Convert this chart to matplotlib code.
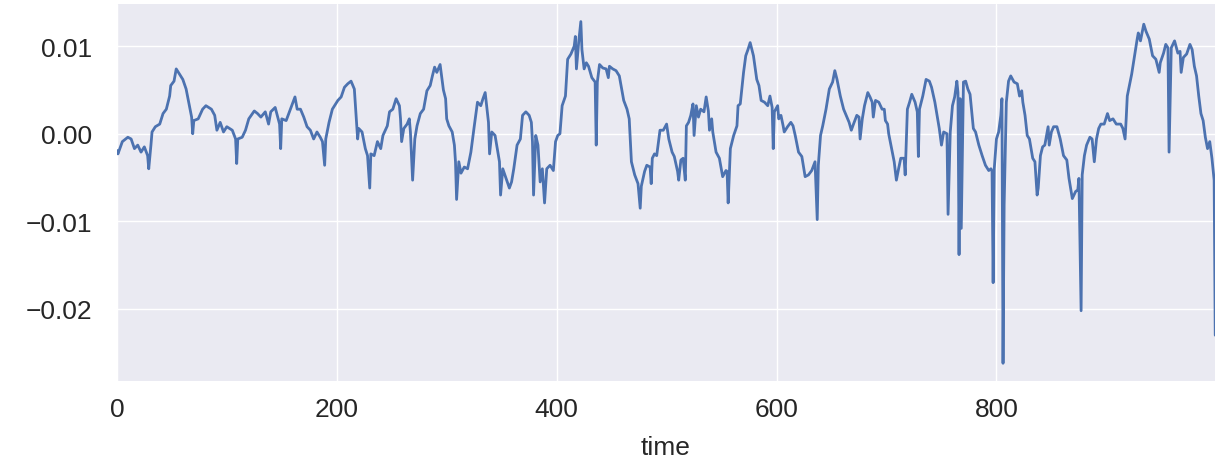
import matplotlib
matplotlib.use("Agg")
import matplotlib.pyplot as plt
import seaborn as sns
import pandas as pd

sns.set_theme(style="darkgrid")
plt.rcParams['font.family'] = ['Liberation Sans', 'DejaVu Sans']

# values (time step, value)
time = [
    0, 1, 5, 10, 13, 16, 19, 22, 25, 28, 29, 31, 32, 35, 39, 42, 45, 48, 49, 52,
    54, 57, 60, 63, 66, 68, 69, 70, 74, 78, 81, 86, 89, 91, 94, 97, 100, 105, 108, 109,
    110, 114, 117, 120, 125, 128, 131, 135, 138, 140, 144, 148, 149, 150, 154, 157, 159, 162, 164, 167,
    170, 173, 176, 179, 182, 185, 187, 189, 190, 193, 196, 199, 201, 204, 207, 210, 213, 216, 217, 219,
    220, 223, 226, 228, 230, 231, 234, 237, 240, 242, 246, 248, 251, 254, 257, 258, 259, 261, 264, 266,
    267, 269, 271, 273, 276, 279, 282, 285, 287, 289, 291, 294, 296, 297, 299, 300, 302, 305, 307, 308,
    309, 311, 313, 316, 319, 322, 325, 328, 331, 333, 335, 337, 338, 339, 341, 344, 346, 348, 349, 351,
    354, 357, 359, 361, 364, 367, 369, 372, 375, 377, 378, 379, 381, 383, 385, 387, 389, 391, 394, 397,
    399, 401, 403, 405, 408, 410, 413, 416, 417, 418, 420, 422, 423, 425, 427, 429, 432, 435, 436, 437,
    439, 442, 445, 447, 448, 451, 454, 457, 461, 464, 466, 468, 471, 474, 476, 477, 480, 482, 485, 486,
    487, 489, 491, 494, 497, 500, 502, 505, 507, 510, 511, 513, 515, 517, 518, 520, 522, 524, 525, 527,
    529, 531, 534, 536, 538, 539, 541, 542, 545, 548, 551, 554, 555, 556, 558, 561, 564, 565, 567, 570,
    572, 574, 576, 579, 582, 584, 586, 589, 592, 594, 596, 597, 598, 601, 602, 604, 606, 607, 610, 613,
    615, 617, 620, 623, 626, 629, 632, 635, 637, 638, 640, 642, 645, 648, 651, 653, 655, 658, 661, 664,
    666, 668, 670, 673, 675, 676, 678, 680, 683, 685, 687, 688, 690, 693, 696, 698, 699, 701, 702, 704,
    707, 709, 711, 713, 716, 717, 719, 721, 723, 726, 728, 729, 730, 733, 736, 739, 741, 744, 748, 750,
    752, 755, 756, 758, 760, 762, 764, 765, 766, 767, 768, 770, 772, 774, 776, 779, 781, 784, 787, 790,
    793, 795, 796, 797, 798, 800, 802, 804, 805, 806, 807, 809, 811, 813, 816, 819, 821, 823, 824, 826,
    828, 830, 833, 835, 837, 838, 840, 842, 844, 847, 848, 850, 852, 855, 858, 861, 864, 866, 869, 872,
    874, 875, 877, 878, 880, 882, 885, 887, 889, 891, 893, 895, 898, 901, 903, 906, 909, 913, 915, 917,
    918, 919, 922, 923, 926, 928, 929, 931, 934, 936, 939, 942, 945, 948, 949, 952, 954, 956, 957, 959,
    962, 965, 967, 968, 970, 973, 976, 978, 980, 982, 984, 986, 988, 990, 992, 994, 996, 998, 999,
]

value = [
    -0.0019, -0.0023, -0.0009, -0.0004, -0.0006, -0.0017, -0.0013, -0.0021, -0.0015, -0.0025,
    -0.0040, -0.0013, 0.0002, 0.0008, 0.0011, 0.0023, 0.0028, 0.0043, 0.0055, 0.0060,
    0.0074, 0.0068, 0.0062, 0.0051, 0.0032, 0.0019, 0.0000, 0.0015, 0.0017, 0.0028,
    0.0032, 0.0028, 0.0021, 0.0004, 0.0013, 0.0002, 0.0008, 0.0004, -0.0006, -0.0034,
    -0.0006, -0.0004, 0.0004, 0.0017, 0.0026, 0.0023, 0.0019, 0.0025, 0.0011, 0.0025,
    0.0030, 0.0011, -0.0017, 0.0017, 0.0015, 0.0025, 0.0032, 0.0042, 0.0028, 0.0028,
    0.0019, 0.0008, 0.0004, -0.0006, 0.0002, -0.0004, -0.0009, -0.0036, -0.0006, 0.0013,
    0.0028, 0.0034, 0.0038, 0.0042, 0.0053, 0.0057, 0.0060, 0.0051, 0.0032, -0.0006,
    0.0006, 0.0002, -0.0017, -0.0025, -0.0062, -0.0023, -0.0025, -0.0009, -0.0017, -0.0002,
    0.0009, 0.0025, 0.0028, 0.0040, 0.0032, 0.0017, -0.0009, 0.0006, 0.0011, 0.0017,
    0.0002, -0.0053, -0.0006, 0.0009, 0.0023, 0.0028, 0.0049, 0.0055, 0.0066, 0.0076,
    0.0070, 0.0079, 0.0060, 0.0050, 0.0040, 0.0017, 0.0009, 0.0002, -0.0013, -0.0032,
    -0.0075, -0.0032, -0.0045, -0.0038, -0.0040, -0.0021, 0.0008, 0.0036, 0.0032, 0.0040,
    0.0047, 0.0025, 0.0013, -0.0023, 0.0002, -0.0002, -0.0017, -0.0032, -0.0070, -0.0040,
    -0.0051, -0.0062, -0.0055, -0.0040, -0.0013, -0.0006, 0.0021, 0.0025, 0.0021, 0.0013,
    -0.0009, -0.0070, -0.0002, -0.0013, -0.0055, -0.0040, -0.0079, -0.0040, -0.0036, -0.0042,
    -0.0009, -0.0002, 0.0000, 0.0032, 0.0043, 0.0085, 0.0091, 0.0100, 0.0111, 0.0074,
    0.0104, 0.0128, 0.0096, 0.0074, 0.0081, 0.0077, 0.0064, 0.0059, -0.0013, 0.0059,
    0.0079, 0.0075, 0.0074, 0.0064, 0.0077, 0.0074, 0.0072, 0.0066, 0.0038, 0.0028,
    0.0017, -0.0032, -0.0047, -0.0057, -0.0085, -0.0060, -0.0043, -0.0036, -0.0038, -0.0057,
    -0.0028, -0.0023, -0.0025, 0.0004, 0.0004, 0.0011, -0.0006, -0.0021, -0.0026, -0.0043,
    -0.0053, -0.0030, -0.0028, -0.0053, 0.0009, 0.0013, 0.0021, 0.0034, -0.0002, 0.0032,
    0.0019, 0.0028, 0.0025, 0.0042, 0.0026, 0.0004, 0.0017, 0.0002, -0.0021, -0.0028,
    -0.0049, -0.0042, -0.0043, -0.0079, -0.0017, -0.0002, 0.0009, 0.0032, 0.0034, 0.0070,
    0.0089, 0.0096, 0.0104, 0.0089, 0.0062, 0.0055, 0.0038, 0.0036, 0.0032, 0.0043,
    0.0030, -0.0017, 0.0025, 0.0032, 0.0017, 0.0021, 0.0009, 0.0002, 0.0008, 0.0013,
    0.0009, -0.0002, -0.0021, -0.0026, -0.0049, -0.0047, -0.0042, -0.0032, -0.0098, -0.0036,
    -0.0002, 0.0009, 0.0028, 0.0051, 0.0059, 0.0072, 0.0062, 0.0043, 0.0028, 0.0019,
    0.0013, 0.0004, 0.0011, 0.0021, 0.0019, -0.0006, 0.0017, 0.0032, 0.0047, 0.0042,
    0.0036, 0.0019, 0.0038, 0.0036, 0.0028, 0.0028, 0.0015, 0.0011, 0.0000, -0.0013,
    -0.0032, -0.0053, -0.0040, -0.0028, -0.0028, -0.0047, 0.0028, 0.0036, 0.0045, 0.0036,
    0.0025, -0.0026, 0.0028, 0.0043, 0.0062, 0.0060, 0.0053, 0.0036, 0.0006, -0.0013,
    0.0002, 0.0000, -0.0092, 0.0002, 0.0032, 0.0042, 0.0060, 0.0047, -0.0138, 0.0040,
    -0.0108, 0.0059, 0.0060, 0.0051, 0.0045, 0.0006, 0.0002, -0.0013, -0.0025, -0.0036,
    -0.0042, -0.0040, -0.0043, -0.0170, -0.0040, -0.0006, 0.0002, 0.0021, 0.0040, -0.0262,
    -0.0081, 0.0036, 0.0060, 0.0066, 0.0059, 0.0057, 0.0043, 0.0049, 0.0036, 0.0021,
    -0.0002, -0.0006, -0.0028, -0.0032, -0.0070, -0.0062, -0.0025, -0.0015, -0.0013, 0.0008,
    -0.0013, 0.0002, 0.0008, 0.0008, -0.0006, -0.0025, -0.0030, -0.0051, -0.0074, -0.0066,
    -0.0064, -0.0051, -0.0202, -0.0047, -0.0025, -0.0013, -0.0004, -0.0006, -0.0032, -0.0006,
    0.0006, 0.0011, 0.0011, 0.0023, 0.0015, 0.0017, 0.0011, 0.0011, 0.0006, -0.0006,
    0.0017, 0.0043, 0.0062, 0.0068, 0.0092, 0.0108, 0.0115, 0.0106, 0.0125, 0.0117,
    0.0108, 0.0089, 0.0085, 0.0070, 0.0081, 0.0092, 0.0102, 0.0098, -0.0021, 0.0098,
    0.0106, 0.0092, 0.0094, 0.0070, 0.0087, 0.0091, 0.0102, 0.0096, 0.0077, 0.0066,
    0.0043, 0.0023, 0.0015, -0.0004, -0.0017, -0.0009, -0.0028, -0.0053, -0.0230,
]

series = pd.Series(value, index=time)

fig, ax = plt.subplots(figsize=(12.3, 4.6), dpi=100)
series.plot(ax=ax, color='#4C72B0', lw=2)

ax.set_xlim(0, 999)
ax.set_ylim(-0.0282, 0.0148)
ax.set_yticks([-0.02, -0.01, 0.0, 0.01])
ax.set_xlabel('time', fontsize=19, labelpad=10)
ax.tick_params(axis='both', labelsize=19, length=0)
ax.tick_params(axis='y', pad=18)
ax.tick_params(axis='x', pad=12)
for sp in ax.spines.values():
    sp.set_visible(False)

fig.subplots_adjust(left=0.095, right=0.988, top=0.989, bottom=0.17)
fig.savefig('out.png', dpi=100)
